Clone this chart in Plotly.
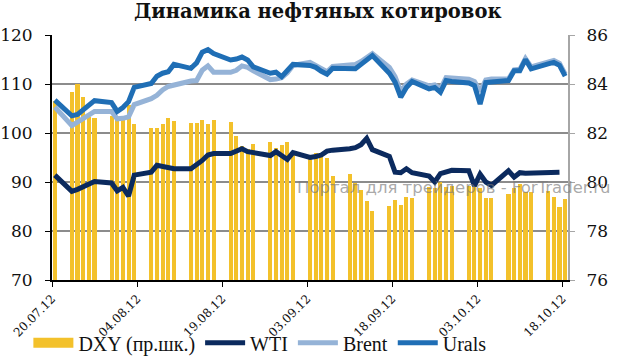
import pandas as pd
import plotly.graph_objects as go

dates = [
    "20.07.12",
    "23.07.12", "24.07.12", "25.07.12", "26.07.12", "27.07.12",
    "30.07.12", "31.07.12", "01.08.12", "02.08.12", "03.08.12",
    "06.08.12", "07.08.12", "08.08.12", "09.08.12", "10.08.12",
    "13.08.12", "14.08.12", "15.08.12", "16.08.12", "17.08.12",
    "20.08.12", "21.08.12", "22.08.12", "23.08.12", "24.08.12",
    "27.08.12", "28.08.12", "29.08.12", "30.08.12", "31.08.12",
    "03.09.12", "04.09.12", "05.09.12", "06.09.12", "07.09.12",
    "10.09.12", "11.09.12", "12.09.12", "13.09.12", "14.09.12",
    "17.09.12", "18.09.12", "19.09.12", "20.09.12", "21.09.12",
    "24.09.12", "25.09.12", "26.09.12", "27.09.12", "28.09.12",
    "01.10.12", "02.10.12", "03.10.12", "04.10.12", "05.10.12",
    "08.10.12", "09.10.12", "10.10.12", "11.10.12", "12.10.12",
    "15.10.12", "16.10.12", "17.10.12", "18.10.12",
]

dxy = [
    83.3,
    83.66, 84.0, 83.48, 82.64, 82.6,
    82.7, 82.55, 82.7, 83.15, 82.35,
    82.2, 82.2, 82.35, 82.6, 82.5,
    82.4, 82.4, 82.55, 82.35, 82.55,
    82.43, 81.87, 81.45, 81.35, 81.55,
    81.63, 81.4, 81.5, 81.65, 81.1,
    80.95, 81.2, 81.1, 81.0, 80.25,
    80.33, 79.95, 79.68, 79.24, 78.8,
    79.03, 79.25, 79.05, 79.4, 79.33,
    79.8, 79.75, 80.0, 79.8, 79.85,
    79.85, 79.8, 79.75, 79.33, 79.33,
    79.5, 79.75, 79.9, 79.6, 79.6,
    79.63, 79.37, 79.0, 79.32,
]

wti = [
    91.4,
    88.1, 88.5, 89.0, 89.4, 90.1,
    89.8, 88.2, 88.9, 87.1, 91.4,
    92.0, 93.4, 93.2, 92.9, 92.7,
    92.7, 93.5, 94.4, 95.5, 95.8,
    95.8, 96.4, 96.8, 96.2, 96.0,
    95.4, 96.2, 95.4, 94.6, 96.0,
    95.0, 95.2, 95.5, 96.3, 96.5,
    96.8, 97.0, 97.6, 98.9, 96.6,
    95.2, 92.0, 91.9, 92.7, 91.9,
    91.2, 90.0, 91.7, 92.1, 92.4,
    92.3, 89.2, 91.6, 90.0, 89.3,
    92.3, 91.0, 91.9, 91.8, 91.8,
    91.9, 92.0, 92.0, None,
]

brent = [
    105.3,
    101.5, 102.2, 103.0, 103.6, 104.4,
    104.4, 102.9, 103.0, 103.3, 105.8,
    107.0, 107.7, 108.8, 109.5, 109.8,
    110.6, 110.7, 112.8, 113.7, 112.4,
    112.4, 112.8, 113.7, 113.4, 112.7,
    110.9, 111.0, 111.3, 112.3, 113.8,
    114.4, 113.8, 113.0, 112.5, 113.6,
    113.8, 114.0, 114.6, 115.3, 116.2,
    113.4, 111.5, 108.5, 110.0, 110.8,
    109.6, 109.8, 109.0, 111.3, 111.2,
    111.0, 110.5, 108.5, 110.8, 111.0,
    111.0, 112.9, 113.0, 115.2, 113.5,
    114.5, 114.8, 114.2, 112.0,
]

urals = [
    106.7,
    103.5, 103.8, 104.7, 105.8, 106.6,
    106.2, 104.4, 105.2, 106.4, 109.3,
    110.1, 111.6, 112.2, 112.5, 114.0,
    113.2, 114.3, 116.5, 117.0, 116.2,
    114.9, 115.1, 115.5, 114.9, 113.5,
    112.2, 112.4, 111.5, 112.6, 114.0,
    113.8, 113.4, 112.6, 112.0, 113.2,
    113.2, 113.1, 114.0, 114.8, 115.8,
    112.2, 110.4, 107.3, 109.3, 110.5,
    109.0, 109.3, 108.3, 110.7, 110.5,
    110.2, 109.7, 105.9, 110.3, 110.4,
    110.7, 112.7, 112.7, 115.0, 113.1,
    114.1, 114.4, 113.8, 111.6,
]

tick_labels = ["20.07.12", "04.08.12", "19.08.12", "03.09.12",
               "18.09.12", "03.10.12", "18.10.12"]

title_text = "Динамика нефтяных котировок"
watermark = "Портал для трейдеров - ForTrader.ru"

# each trading day occupies a one-day slot; marks sit in the middle of the slot
day = pd.to_datetime(dates, format="%d.%m.%y")
xc = day + pd.Timedelta(hours=12)
tickvals = pd.to_datetime(tick_labels, format="%d.%m.%y")

GOLD = "#F3C12B"
C_WTI = "#0B2A5E"
C_BRENT = "#95B3D7"
C_URALS = "#1F6EB5"

fig = go.Figure()

fig.add_trace(go.Bar(
    x=xc, y=dxy, yaxis="y", name="DXY (пр.шк.)", showlegend=False,
    marker=dict(color=GOLD, line=dict(width=0)),
    width=0.72 * 86400000,
))

# legend entry for the bars (wide gold block like the original)
fig.add_trace(go.Scatter(
    x=[None], y=[None], yaxis="y2", mode="lines", name="DXY (пр.шк.)",
    line=dict(color=GOLD, width=10),
))

for name, vals, col in (("WTI", wti, C_WTI), ("Brent", brent, C_BRENT),
                        ("Urals", urals, C_URALS)):
    fig.add_trace(go.Scatter(
        x=xc, y=vals, yaxis="y2", mode="lines", name=name,
        line=dict(color=col, width=5), connectgaps=False,
    ))

serif = "DejaVu Serif"

fig.update_layout(
    width=617, height=356,
    margin=dict(l=52, r=49, t=35, b=76, autoexpand=False),
    paper_bgcolor="white", plot_bgcolor="white",
    bargap=0,
    title=dict(text="<b>" + title_text + "</b>", x=0.515, xanchor="center",
               y=0.968, yanchor="middle", yref="container",
               font=dict(family=serif, size=19.5, color="#111111")),
    xaxis=dict(
        type="date", range=[day[0], day[-1] + pd.Timedelta(days=1)],
        tickvals=tickvals, ticktext=tick_labels, tickangle=-45,
        showgrid=False, showline=True, linecolor="black", linewidth=2,
        ticks="outside", ticklen=5, tickcolor="black", tickwidth=1,
        tickfont=dict(family=serif, size=12, color="#111111"),
        zeroline=False, automargin=False,
    ),
    yaxis=dict(
        side="right", range=[76, 86], dtick=2, tick0=76,
        showgrid=False, showline=True, linecolor="#a6a6a6", linewidth=2,
        ticks="outside", ticklen=5, tickcolor="#a6a6a6",
        tickfont=dict(family=serif, size=17, color="#111111"),
        ticklabelstandoff=8, zeroline=False, automargin=False,
    ),
    yaxis2=dict(
        side="left", overlaying="y", range=[70, 120], dtick=10, tick0=70,
        showgrid=True, gridcolor="#8c8c8c", gridwidth=2,
        showline=True, linecolor="black", linewidth=2,
        ticks="outside", ticklen=5, tickcolor="black",
        tickfont=dict(family=serif, size=17, color="#111111"),
        ticklabelstandoff=9, zeroline=False, automargin=False,
    ),
    legend=dict(
        orientation="h", x=0.046, xref="container", xanchor="left",
        y=0.037, yref="container", yanchor="middle",
        font=dict(family="Liberation Serif", size=20, color="#111111"),
        bgcolor="rgba(0,0,0,0)", itemwidth=40, tracegroupgap=0,
    ),
    showlegend=True,
    annotations=[dict(
        text=watermark, xref="paper", yref="paper", x=0.47, y=0.376,
        xanchor="left", yanchor="middle", showarrow=False,
        font=dict(family="DejaVu Sans", size=16.5, color="rgba(120,120,120,0.65)"),
    )],
)

fig.write_html(
    "out.html",
    config={"displayModeBar": False},
    post_script="document.body.style.margin='0';document.body.style.overflow='hidden';",
)
